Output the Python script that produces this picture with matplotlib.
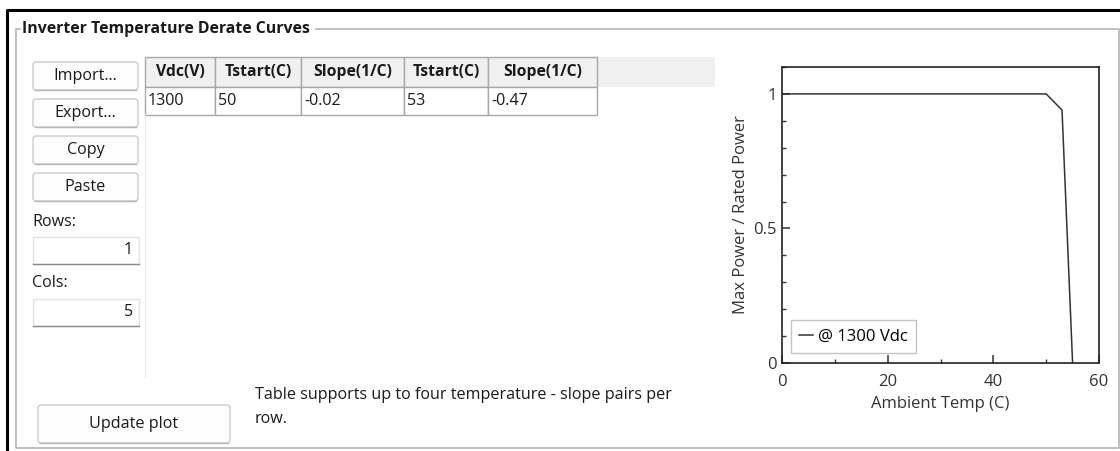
import matplotlib.pyplot as plt
from matplotlib.patches import Rectangle, FancyBboxPatch
from matplotlib.ticker import MultipleLocator

plt.rcParams['font.family'] = ['Open Sans', 'DejaVu Sans']

# table contents
headers = ['Vdc(V)', 'Tstart(C)', 'Slope(1/C)', 'Tstart(C)', 'Slope(1/C)']
row_values = ['1300', '50', '-0.02', '53', '-0.47']
col_edges = [145, 215, 301, 404, 488, 597]

# derate curve
temps = [0, 50, 53, 55]
power = [1.0, 1.0, 0.94, 0.0]
curve_label = '@ 1300 Vdc'

W, H = 1120, 451
fig = plt.figure(figsize=(W / 100, H / 100), dpi=100)

# overlay axes in pixel coordinates for the form widgets
ui = fig.add_axes([0, 0, 1, 1])
ui.set_xlim(0, W)
ui.set_ylim(H, 0)
ui.axis('off')

txt = '#1a1a1a'
fs = 11.6
cfs = 12

# outer window frame
ui.plot([7, 7, W], [H, 10, 10], color='black', lw=2.2, solid_capstyle='butt')

# group box
gb = '#b4b4b4'
ui.plot([20, 16, 16, 1119, 1119, 316], [29, 29, 448, 448, 29, 29], color=gb, lw=1.2)
ui.text(22, 29, 'Inverter Temperature Derate Curves', fontsize=fs - 0.2, fontweight='bold',
        va='center', ha='left', color=txt)


def button(x0, y0, x1, y1, label):
    ui.add_patch(FancyBboxPatch((x0, y0), x1 - x0, y1 - y0,
                                boxstyle='round,pad=0,rounding_size=3',
                                fc='#fdfdfd', ec='#cfcfcf', lw=1.1))
    ui.plot([x0 + 2, x1 - 2], [y1, y1], color='#b8b8b8', lw=1)
    ui.text((x0 + x1) / 2, (y0 + y1) / 2, label, fontsize=fs, ha='center',
            va='center', color=txt)


def textbox(x0, y0, x1, y1, value):
    ui.add_patch(Rectangle((x0, y0), x1 - x0, y1 - y0, fc='white', ec='#e2e2e2', lw=1))
    ui.plot([x0, x1], [y1, y1], color='#8a8a8a', lw=1)
    ui.text(x1 - 6, (y0 + y1) / 2, value, fontsize=fs, ha='right', va='center', color=txt)


button(33, 62, 138, 90, 'Import...')
button(33, 99, 138, 127, 'Export...')
button(33, 136, 138, 164, 'Copy')
button(33, 173, 138, 201, 'Paste')
ui.text(32, 222, 'Rows:', fontsize=fs, ha='left', va='center', color=txt)
textbox(33, 237, 139, 264, '1')
ui.text(32, 283, 'Cols:', fontsize=fs, ha='left', va='center', color=txt)
textbox(33, 299, 139, 326, '5')
button(38, 405, 230, 443, 'Update plot')

# table area
ui.plot([145, 145], [115, 377], color='#ececec', lw=1)
ui.add_patch(Rectangle((145, 57), 715 - 145, 30, fc='#f0f0f0', ec='none'))
for i, (h, v) in enumerate(zip(headers, row_values)):
    x0, x1 = col_edges[i], col_edges[i + 1]
    ui.add_patch(Rectangle((x0, 57), x1 - x0, 30, fc='#f0f0f0', ec='#a8a8a8', lw=1))
    ui.add_patch(Rectangle((x0, 87), x1 - x0, 28, fc='white', ec='#a8a8a8', lw=1))
    ui.text((x0 + x1) / 2, 72, h, fontsize=fs - 0.3, fontweight='bold', ha='center',
            va='center', color=txt)
    ui.text(x0 + 3, 101, v, fontsize=fs, ha='left', va='center', color=txt)

ui.text(255, 395, 'Table supports up to four temperature - slope pairs per',
        fontsize=fs, ha='left', va='center', color=txt)
ui.text(255, 419, 'row.', fontsize=fs, ha='left', va='center', color=txt)

# the chart
ax = fig.add_axes([782 / W, 1 - 363 / H, (1099 - 782) / W, (363 - 67) / H])
ax.plot(temps, power, color='#333333', lw=1.1, label=curve_label)
ax.set_xlim(0, 60)
ax.set_ylim(0, 1.1)
ax.xaxis.set_major_locator(MultipleLocator(20))
ax.xaxis.set_minor_locator(MultipleLocator(10))
ax.yaxis.set_major_locator(MultipleLocator(0.5))
ax.yaxis.set_minor_locator(MultipleLocator(0.1))
ax.xaxis.set_major_formatter(plt.FuncFormatter(lambda v, p: f'{v:g}'))
ax.yaxis.set_major_formatter(plt.FuncFormatter(lambda v, p: f'{v:g}'))
ax.tick_params(which='both', direction='in', top=False, right=False,
               color='#333333', labelcolor='#333333', labelsize=cfs)
ax.tick_params(which='major', length=6, width=1.1, pad=4)
ax.tick_params(axis='x', which='major', pad=8)
ax.tick_params(which='minor', length=3, width=1)
for s in ax.spines.values():
    s.set_color('#222222')
    s.set_linewidth(1.2)
ax.set_xlabel('Ambient Temp (C)', fontsize=cfs, color='#333333', labelpad=4)
ax.set_ylabel('Max Power / Rated Power', fontsize=cfs, color='#333333', labelpad=3)
leg = ax.legend(loc='lower left', bbox_to_anchor=(0.028, 0.034), borderaxespad=0,
                fontsize=cfs, handlelength=0.85, handletextpad=0.3, borderpad=0.5,
                fancybox=False, framealpha=1)
leg.get_frame().set_edgecolor('#c4c4c4')
leg.get_frame().set_linewidth(1)

fig.savefig('out.png', dpi=100)
